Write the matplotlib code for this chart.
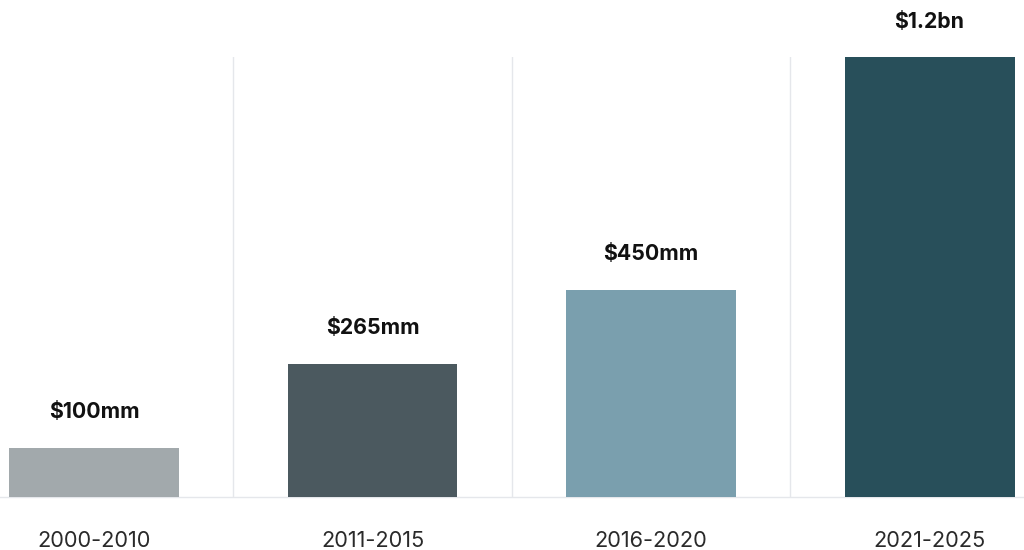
import matplotlib
matplotlib.use("Agg")
import matplotlib.pyplot as plt

categories = ["2000-2010", "2011-2015", "2016-2020", "2021-2025"]
bar_heights = [134, 363, 565, 1200]
value_labels = ["$100mm", "$265mm", "$450mm", "$1.2bn"]
colors = ["#A2A9AC", "#4B595F", "#7A9FAE", "#284F5A"]

plt.rcParams['font.family'] = ['Inter', 'DejaVu Sans']

fig = plt.figure(figsize=(10.24, 5.5), dpi=100)
ax = fig.add_axes([0.0, 53/550, 1.0, 440/550])

x = list(range(len(categories)))
ax.bar(x, bar_heights, width=0.61, color=colors, zorder=3)

ymax = max(bar_heights)
ax.set_ylim(0, ymax)
ax.set_xlim(-0.3375, 3.339)

for xi, h, lab in zip(x, bar_heights, value_labels):
    ax.annotate(lab, (xi, h), xytext=(0, 25.5), textcoords="offset points",
                ha="center", va="center", fontsize=15.3, fontweight="bold",
                color="#111111", annotation_clip=False)

for b in [0.5, 1.5, 2.5]:
    ax.axvline(b, color="#E5E7EB", lw=1.0, zorder=1)

ax.set_xticks(x)
ax.set_xticklabels(categories, fontsize=15.7, color="#2A2A2A")
ax.tick_params(axis="x", length=0, pad=24.5)
ax.set_yticks([])
for s in ["top", "left", "right"]:
    ax.spines[s].set_visible(False)
ax.spines["bottom"].set_color("#E5E7EB")
ax.spines["bottom"].set_linewidth(1.0)

fig.savefig("out.png", dpi=100, facecolor="white")
